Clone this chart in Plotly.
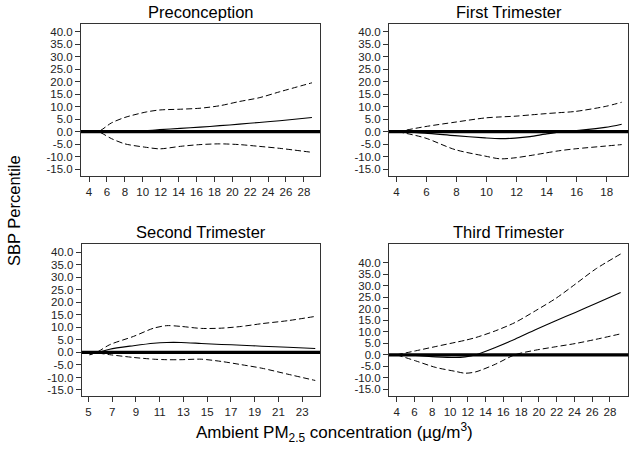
import plotly.graph_objects as go

# ---------------- data ----------------
titles = ["Preconception", "First Trimester", "Second Trimester", "Third Trimester"]

x_pre = [3.3, 5.0, 6.5, 8.0, 10.4, 11.9, 14.2, 16.4, 18.6, 20.8, 23.0, 25.3, 28.9]
est_pre = [0, 0, 0.05, 0.15, 0.45, 0.8, 1.3, 1.8, 2.4, 3.0, 3.7, 4.4, 5.7]
upp_pre = [0, 0, 3.5, 5.7, 7.9, 8.7, 9.0, 9.4, 10.4, 12.1, 13.6, 16.0, 19.6]
low_pre = [0, 0, -2.8, -4.9, -6.3, -6.9, -5.9, -5.2, -4.9, -5.2, -5.9, -6.7, -8.3]

x_t1 = [4.1, 5.9, 7.9, 9.9, 10.9, 11.9, 12.9, 13.9, 14.8, 15.9, 17.9, 19.0]
est_t1 = [0, -0.6, -1.6, -2.5, -2.8, -2.6, -2.0, -1.0, -0.2, 0.4, 1.7, 3.0]
upp_t1 = [0, 2.0, 3.8, 5.5, 5.9, 6.2, 6.7, 7.2, 7.6, 8.1, 10.1, 11.8]
low_t1 = [0, -2.5, -7.2, -9.8, -10.9, -10.5, -9.6, -8.6, -7.7, -6.9, -5.8, -5.2]

x_t2 = [5.1, 5.8, 6.8, 8.8, 10.5, 11.6, 12.8, 14.5, 16.2, 17.9, 19.6, 21.8, 24.1]
est_t2 = [-0.7, 0.0, 1.3, 2.7, 3.7, 4.0, 4.0, 3.6, 3.2, 2.9, 2.5, 2.1, 1.6]
upp_t2 = [-1.0, 0.3, 3.1, 6.4, 9.7, 10.7, 10.4, 9.6, 9.7, 10.4, 11.5, 12.7, 14.4]
low_t2 = [-0.5, -0.3, -0.9, -2.0, -2.7, -2.9, -2.9, -2.7, -3.6, -4.9, -6.3, -8.7, -11.2]

x_t3 = [4.0, 6.1, 8.4, 10.6, 11.7, 12.9, 15.1, 17.3, 19.6, 21.9, 24.1, 26.4, 29.2]
est_t3 = [0, -0.3, -0.9, -1.2, -0.9, 0.0, 3.2, 6.8, 10.9, 14.8, 18.4, 22.3, 27.1]
upp_t3 = [0, 1.7, 3.6, 5.4, 6.3, 7.5, 10.4, 14.0, 19.1, 24.5, 30.7, 37.3, 43.8]
low_t3 = [0, -2.6, -5.5, -7.2, -8.0, -7.4, -4.1, 0.0, 2.0, 3.5, 4.9, 6.7, 9.1]

xticks_pre = list(range(4, 29, 2))
xticks_t1 = list(range(4, 19, 2))
xticks_t2 = list(range(5, 24, 2))
xticks_t3 = list(range(4, 29, 2))
yticks = [40, 35, 30, 25, 20, 15, 10, 5, 0, -5, -10, -15]

x_ranges = [[3.1, 29.8], [3.51, 19.44], [4.44, 24.5], [3.13, 30.06]]
y_ranges = [[-17.8, 43.2], [-17.8, 43.2], [-17.4, 43.2], [-17.9, 48.0]]

panels = [
    (x_pre, est_pre, upp_pre, low_pre, xticks_pre),
    (x_t1, est_t1, upp_t1, low_t1, xticks_t1),
    (x_t2, est_t2, upp_t2, low_t2, xticks_t2),
    (x_t3, est_t3, upp_t3, low_t3, xticks_t3),
]

# ---------------- layout geometry ----------------
W, H = 635, 459
px_boxes = [  # left, right, top, bottom in pixels
    (81, 320, 24, 176),
    (389, 628.3, 24, 176),
    (81.7, 320, 244.3, 396),
    (389, 628.3, 244.3, 396),
]

FONT = "Liberation Sans"
fig = go.Figure()
layout = dict(
    width=W, height=H,
    margin=dict(l=0, r=0, t=0, b=0),
    paper_bgcolor="white", plot_bgcolor="white",
    showlegend=False,
    font=dict(family=FONT, color="black"),
)
shapes = []
annotations = []

for i, (xs, est, upp, low, xt) in enumerate(panels):
    n = i + 1
    xa = "x" if n == 1 else f"x{n}"
    ya = "y" if n == 1 else f"y{n}"
    l, r, t, b = px_boxes[i]
    for yy, dash, w in ((upp, "6px,3px", 1), (low, "6px,3px", 1), (est, "solid", 1.1)):
        fig.add_trace(go.Scatter(
            x=xs, y=yy, mode="lines", xaxis=xa, yaxis=ya,
            line=dict(color="black", width=w, dash=dash, shape="spline", smoothing=0.8),
            hoverinfo="skip",
        ))
    axis_common = dict(
        showgrid=False, zeroline=False, showline=True, mirror=True,
        linecolor="#333333", linewidth=1, ticks="outside", ticklen=5,
        tickcolor="#333333", tickfont=dict(size=11.5, family=FONT, color="#222222"),
        automargin=False,
    )
    layout["xaxis" if n == 1 else f"xaxis{n}"] = dict(
        axis_common, domain=[l / W, r / W], anchor=ya,
        range=x_ranges[i], tickvals=xt, ticktext=[str(v) for v in xt],
    )
    layout["yaxis" if n == 1 else f"yaxis{n}"] = dict(
        axis_common, domain=[1 - b / H, 1 - t / H], anchor=xa,
        range=y_ranges[i], tickvals=yticks, ticktext=[f"{v:.1f}" for v in yticks],
    )
    shapes.append(dict(type="line", xref=f"{xa} domain", yref=ya,
                       x0=0, x1=1, y0=0, y1=0, line=dict(color="black", width=3.2)))
    annotations.append(dict(
        text=titles[i], xref="paper", yref="paper",
        x=(l + r) / 2 / W, y=1 - (t - 12) / H, xanchor="center", yanchor="middle",
        showarrow=False, font=dict(size=16.5, family=FONT, color="black"),
    ))

annotations.append(dict(
    text="SBP Percentile", xref="paper", yref="paper", x=14 / W, y=1 - 211 / H,
    xanchor="center", yanchor="middle", textangle=-90, showarrow=False,
    font=dict(size=16.5, family=FONT, color="black"),
))
annotations.append(dict(
    text="Ambient PM<sub>2.5</sub> concentration (µg/m<sup>3</sup>)",
    xref="paper", yref="paper", x=334 / W, y=1 - 432 / H,
    xanchor="center", yanchor="middle", showarrow=False,
    font=dict(size=17, family=FONT, color="black"),
))

layout["shapes"] = shapes
layout["annotations"] = annotations
fig.update_layout(**layout)
fig.write_html("out.html", config={"displayModeBar": False},
               post_script="document.body.style.margin='0';")
